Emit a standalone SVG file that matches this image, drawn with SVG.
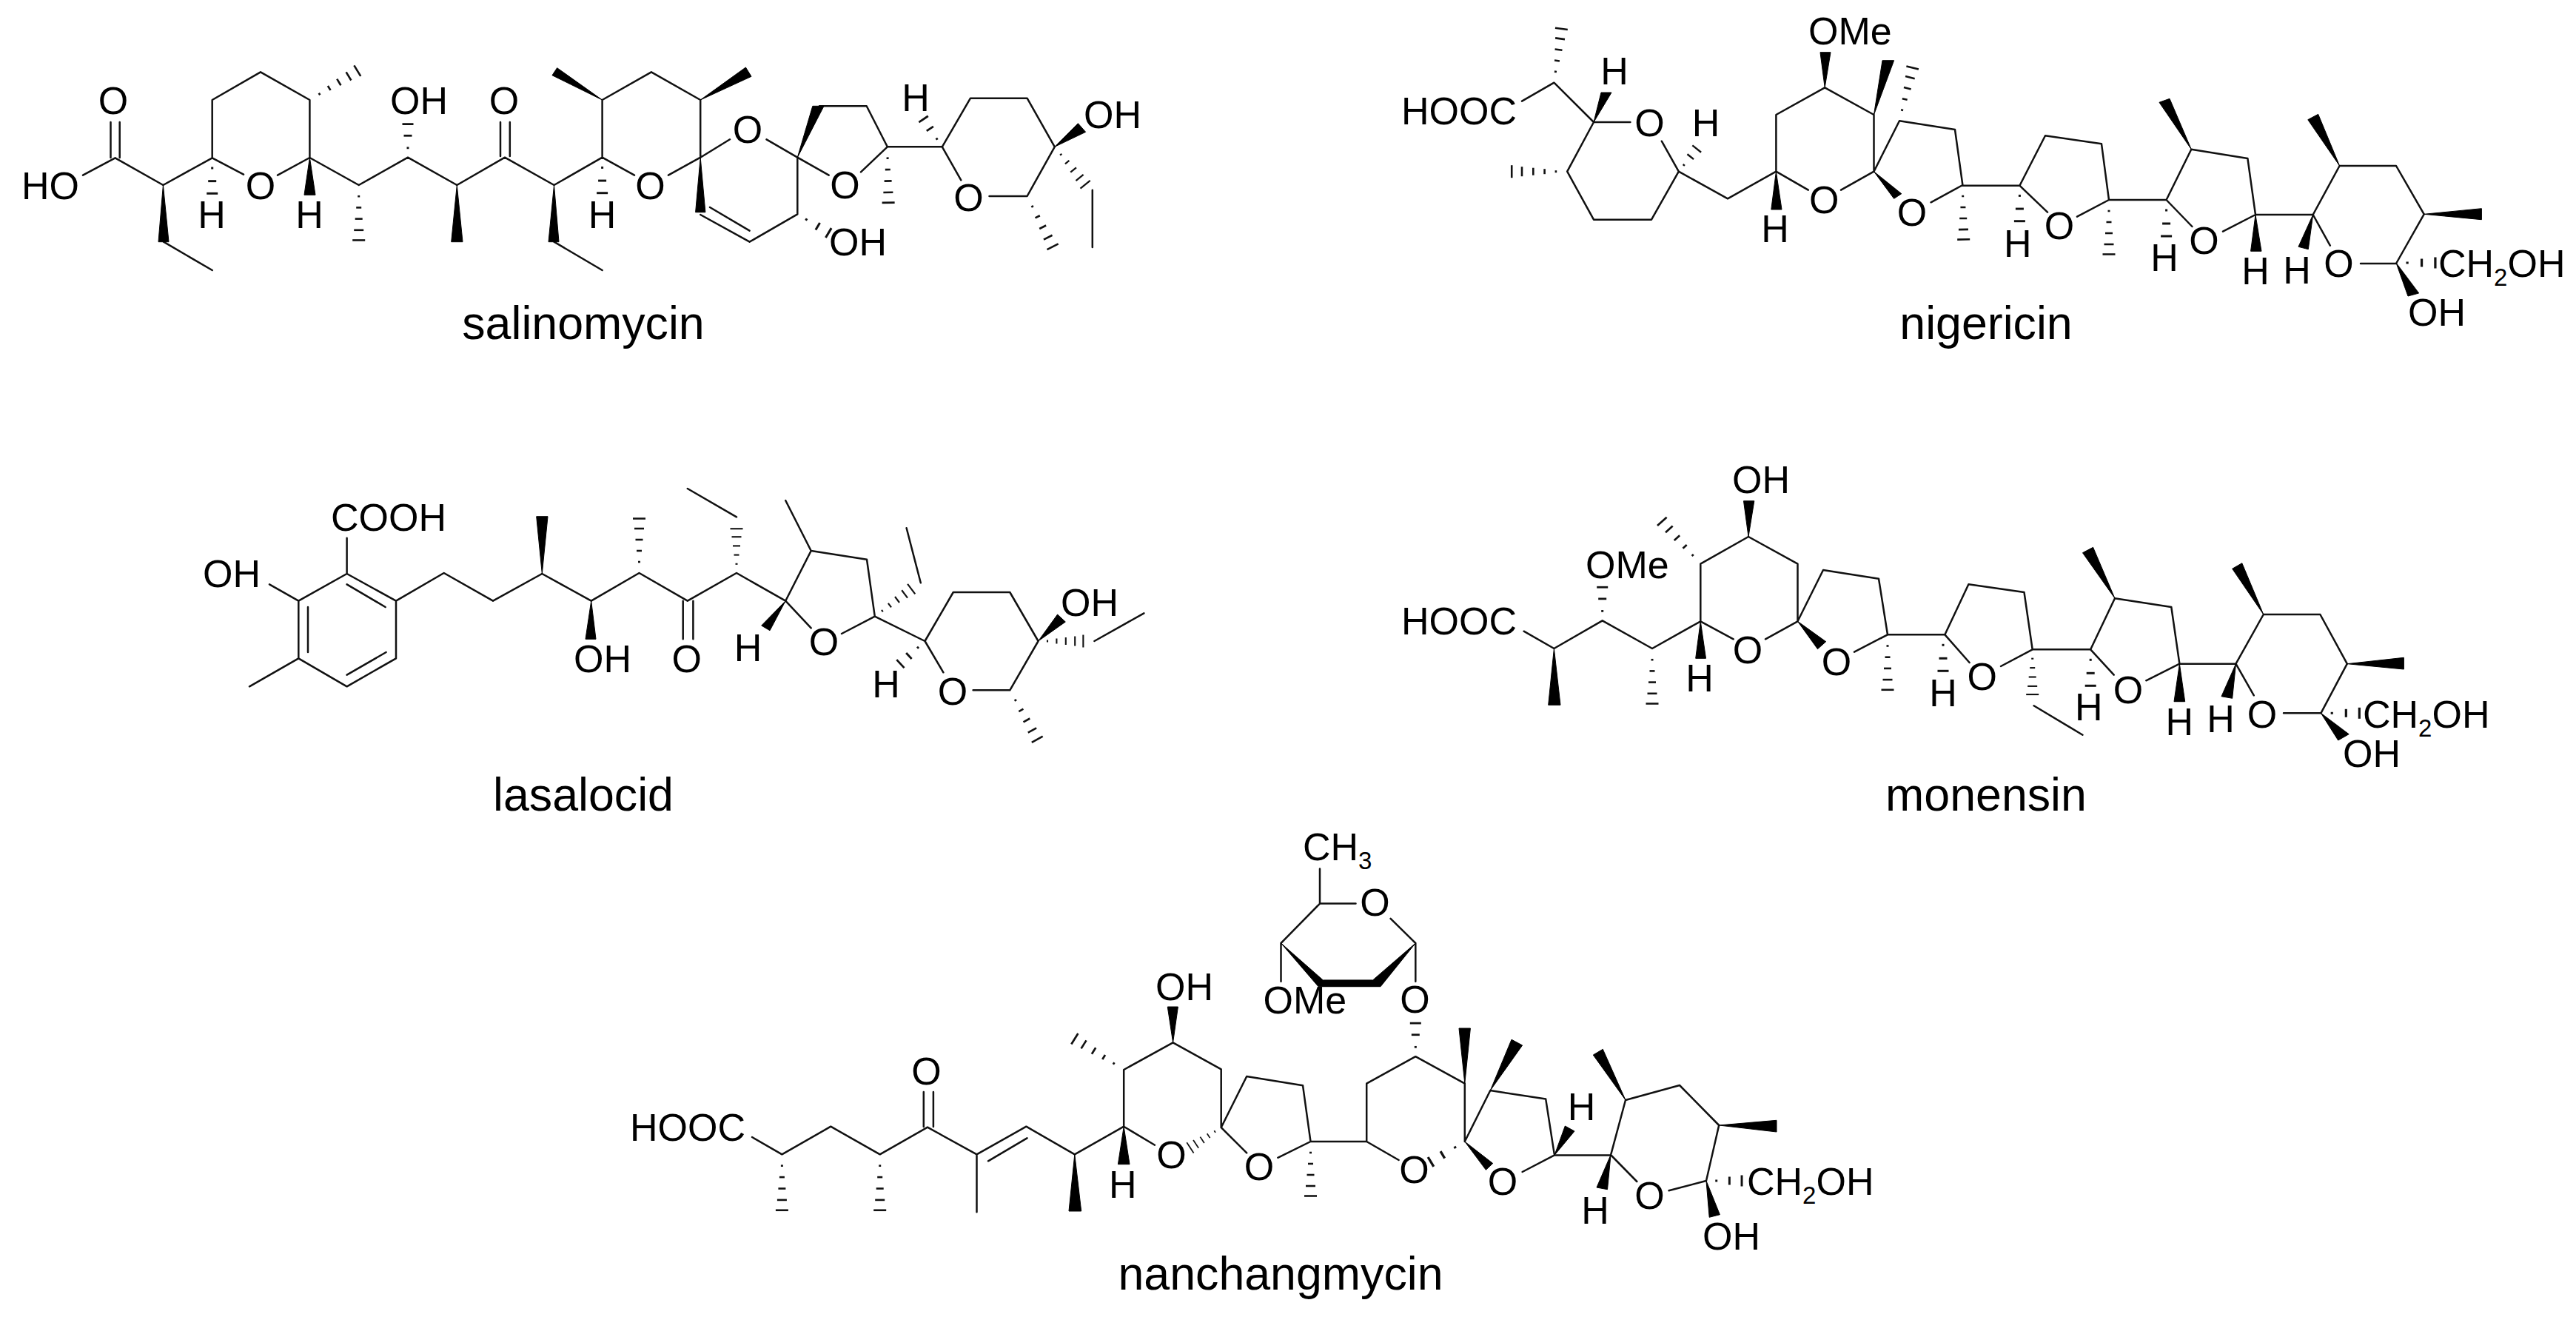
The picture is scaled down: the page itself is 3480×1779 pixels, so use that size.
<svg xmlns="http://www.w3.org/2000/svg" width="3480" height="1779" viewBox="0 0 3480 1779">
<style>
text{font-family:"Liberation Sans",Arial,sans-serif;fill:#000}
.t{font-size:52px}
.m{font-size:52px;text-anchor:middle}
.s{font-size:33px}
.c{font-size:62.7px;text-anchor:middle}
.b{fill:none;stroke:#111;stroke-width:2.5;stroke-linecap:round;stroke-linejoin:round}
polygon{fill:#000;stroke:#000;stroke-width:1;stroke-linejoin:round}
.h line{stroke:#111}
</style>
<defs>
<g id="h5" class="h" stroke-width="3.4"><line x1="-1.5" y1="20" x2="1.5" y2="20"/><line x1="-3.5" y1="40" x2="3.5" y2="40"/><line x1="-5" y1="60" x2="5" y2="60"/><line x1="-6.5" y1="80" x2="6.5" y2="80"/><line x1="-8.5" y1="98" x2="8.5" y2="98"/></g>
<g id="h3" class="h" stroke-width="6"><line x1="-1.5" y1="28" x2="1.5" y2="28"/><line x1="-5.5" y1="64" x2="5.5" y2="64"/><line x1="-7.5" y1="98" x2="7.5" y2="98"/></g>
</defs>
<rect width="3480" height="1779" fill="#fff"/>

<g id="salinomycin">
<path class="b" d="M112 236.7L155.6 213.3L220.4 250L286.7 213.3L329 235.7M375 236.7L418.4 213L484.7 250L551 212.7L617.3 250L682 212.7L748.5 250L813.6 212.7L857 236.7M902.9 236.7L946.2 212.7L986 188.3M1035.5 188.3L1077.3 212.7L1119.7 236.7M149.5 165V213M161.7 165V213M221 326.7L286.7 365M286.7 213.3V135L352 97.3L418.4 135V212.7M676 165V211M688.8 165V211M748.5 326.7L813.6 365M813.6 212.7V135L879.9 97.3L946.2 135V212.7M946.2 290L1012.6 326.7L1077.3 289.3V212.7M959 280L1012.6 311.7M1107 143.3H1170.7L1198.8 198.3H1272.8L1311 132.7H1387.6L1424.8 198.3L1387.6 265H1336.5M1163 232.3L1198.8 198.3M1272.8 198.3L1298.3 243.3M1475.8 256.7V334"/>
<polygon points="220.4,250 214,326.7 228,326.7"/>
<polygon points="418.4,212.7 411,263.3 426,263.3"/>
<polygon points="617.3,250 609.7,326.7 625,326.7"/>
<polygon points="748.5,250 741,326.7 755,326.7"/>
<polygon points="813.6,135 752.6,91.7 746,101.7"/>
<polygon points="946.2,135 1007.4,91 1015,103.3"/>
<polygon points="946.2,212.7 939.6,286.7 952.9,286.7"/>
<polygon points="1077.3,212.7 1097.8,143.3 1113,143.3"/>
<polygon points="1424.8,198.3 1456.4,166.7 1466.6,178.3"/>
<use href="#h3" transform="translate(286.7 213.3) scale(1 .49)"/>
<use href="#h5" transform="translate(418.4 135) rotate(-121.4) scale(1 .77)"/>
<use href="#h5" transform="translate(484.7 250) scale(1 .76)"/>
<use href="#h3" transform="translate(551 212.7) rotate(180) scale(1 .46)"/>
<use href="#h3" transform="translate(813.6 212.7) scale(1 .49)"/>
<use href="#h3" transform="translate(1077.3 289.3) rotate(-59) scale(1 .5)"/>
<use href="#h5" transform="translate(1198.8 198.3) rotate(-1) scale(1 .77)"/>
<use href="#h3" transform="translate(1272.8 198.3) rotate(146) scale(1 .46)"/>
<use href="#h5" transform="translate(1424.8 198.3) rotate(-39) scale(1 .67)"/>
<use href="#h5" transform="translate(1387.6 265) rotate(-26.8) scale(1 .78)"/>
<text class="m" x="153" y="154">O</text>
<text class="t" x="29" y="269">HO</text>
<text class="m" x="286" y="308">H</text>
<text class="m" x="352" y="269">O</text>
<text class="m" x="418" y="308">H</text>
<text class="t" x="527" y="154">OH</text>
<text class="m" x="681" y="154">O</text>
<text class="m" x="813.6" y="308">H</text>
<text class="m" x="878.4" y="269">O</text>
<text class="m" x="1010" y="193">O</text>
<text class="m" x="1141.6" y="268">O</text>
<text class="t" x="1120" y="345">OH</text>
<text class="m" x="1237" y="150">H</text>
<text class="m" x="1308.5" y="285">O</text>
<text class="t" x="1464" y="173">OH</text>
<text class="c" x="788" y="458">salinomycin</text>
</g>

<g id="nigericin">
<path class="b" d="M2056 136.7L2099.4 111.7L2153 165H2202.4M2244.8 190.7L2267.8 231.7L2334 268.3L2399.4 231.7L2442.8 256.7M2487 256.7L2531.5 231.7V155L2465.2 118.3L2399.4 155V231.7M2153 165L2117.2 231.7L2153 296.7H2231L2267.8 231.7M2531.5 231.7L2566 163.3L2641 175L2651.4 250L2608.6 273.3M2650.7 250.7H2728.4L2763 183.3L2839 194.3L2849 270L2806 292.7M2728.4 250.7L2766 286.7M2849 270H2926.6L2960.3 201.7L3036.4 214L3047 290L3003 312.7M2926.6 270L2961.4 306M3047 290H3124.7L3160.6 224H3237L3274.7 289.3L3237 356H3189M3124.7 290L3147.8 331.7"/>
<polygon points="2153,165 2163,125 2177,125"/>
<polygon points="2399.4,231.7 2392.8,283 2407,283"/>
<polygon points="2465.2,118.3 2459,70.7 2473,70.7"/>
<polygon points="2531.5,155 2543,81.7 2558.6,81.7"/>
<polygon points="2531.5,231.7 2568.8,261.7 2558.6,268.3"/>
<polygon points="2960.3,201.7 2917,138.3 2931,133.3"/>
<polygon points="3047,290 3040.6,339.3 3055,339.3"/>
<polygon points="3124.7,290 3105,333.3 3118.3,336.7"/>
<polygon points="3160.6,224 3117.8,161.7 3131.7,154.3"/>
<polygon points="3274.7,289.3 3352.4,281.7 3352.4,296.7"/>
<polygon points="3237,355 3253,400 3267.7,396"/>
<use href="#h5" transform="translate(2099.4 111.7) rotate(-172.2) scale(1 .75)"/>
<use href="#h3" transform="translate(2267.8 231.7) rotate(-141.5) scale(1 .4)"/>
<use href="#h5" transform="translate(2117.2 231.7) rotate(90) scale(1 .765)"/>
<use href="#h5" transform="translate(2566 163.3) rotate(-166.2) scale(1 .755)"/>
<use href="#h5" transform="translate(2651.4 250) rotate(-1) scale(1 .75)"/>
<use href="#h3" transform="translate(2728.4 250.7) scale(1 .49)"/>
<use href="#h5" transform="translate(2849 270) scale(1 .75)"/>
<use href="#h3" transform="translate(2926.6 270) scale(1 .5)"/>
<use href="#h3" transform="translate(3237 355) rotate(-90) scale(1 .54)"/>
<text class="t" x="1893" y="168">HOOC</text>
<text class="m" x="2181" y="114">H</text>
<text class="m" x="2228.5" y="184">O</text>
<text class="m" x="2304.5" y="184">H</text>
<text class="t" x="2443" y="60">OMe</text>
<text class="m" x="2398" y="327">H</text>
<text class="m" x="2464.2" y="288">O</text>
<text class="m" x="2583" y="305">O</text>
<text class="m" x="2725.7" y="346.7">H</text>
<text class="m" x="2782" y="323">O</text>
<text class="m" x="2924" y="366">H</text>
<text class="m" x="2977.4" y="343">O</text>
<text class="m" x="3047" y="384">H</text>
<text class="m" x="3103" y="382.7">H</text>
<text class="m" x="3159.6" y="374">O</text>
<text class="t" x="3294" y="374">CH<tspan class="s" dy="12">2</tspan><tspan dy="-12">OH</tspan></text>
<text class="t" x="3253" y="440">OH</text>
<text class="c" x="2683" y="458">nigericin</text>
</g>

<g id="lasalocid">
<path class="b" d="M468.6 775L535 811.7V889.3L468.6 927.3L403.3 889.3V811.7ZM468.6 789.3L520.6 820M416 820V881M468.6 911.7L521.6 881M468.6 726.7V775M364 789.3L403.3 811.7M403.3 889.3L337 927.3M535 811.7L599.7 774L666 811.7L732.3 775L798.7 811.7L863.5 774L928.8 811.7L995 774L1061.2 811.7L1095.7 744L1171 755.7L1181.8 832.7L1137 856M1095.7 744L1061.2 676M995 698.3L928.8 660M922.7 811.7V863.3M936.4 811.7V863.3M1061.2 811.7L1095.7 848.3M1181.8 832.7L1249.5 866L1287.8 800H1364.3L1402.6 866L1364.3 932.3H1314.6M1249.5 866L1274.4 908.3M1478.4 866L1545.4 828.3M1243.8 787.3L1224.6 713.3"/>
<polygon points="732.3,775 724.7,697.7 740,697.7"/>
<polygon points="798.7,811.7 791,863.3 805,863.3"/>
<polygon points="1061.2,811.7 1028.7,845 1040,851.7"/>
<polygon points="1402.6,866 1428.6,830 1439.3,840"/>
<use href="#h5" transform="translate(863.5 774) rotate(180) scale(1 .75)"/>
<use href="#h5" transform="translate(995 774) rotate(180) scale(1 .61)"/>
<use href="#h5" transform="translate(1181.8 832.7) rotate(-126.9) scale(1 .63)"/>
<use href="#h3" transform="translate(1249.5 866) rotate(47.2) scale(1 .46)"/>
<use href="#h5" transform="translate(1402.6 866) rotate(-90) scale(1 .62)"/>
<use href="#h5" transform="translate(1364.3 932.3) rotate(-29.1) scale(1 .775)"/>
<text class="t" x="447" y="717">COOH</text>
<text class="t" x="274" y="793">OH</text>
<text class="t" x="775" y="908">OH</text>
<text class="m" x="927.8" y="908">O</text>
<text class="m" x="1010.6" y="893">H</text>
<text class="m" x="1112.9" y="885">O</text>
<text class="m" x="1197" y="941.7">H</text>
<text class="m" x="1287" y="951.7">O</text>
<text class="t" x="1433" y="831.7">OH</text>
<text class="c" x="788" y="1095">lasalocid</text>
</g>

<g id="monensin">
<path class="b" d="M2058.6 852.7L2099.4 876L2164.7 838.3L2232 876L2297.3 839.3L2341.7 863.3M2385 863.3L2428.5 839.3V761.7L2362 725L2297.3 761.7V839.3M2428.5 839.3L2463 770L2538 781.7L2550 857.3L2505 880.7M2550 857.3H2627.4L2659.4 789.3L2734.5 800L2745.7 877.3L2703 900M2627.4 857.3L2660.6 895M2747.6 953.3L2813.5 992.7M2745.7 877.3H2824.2L2857 808.3L2933.3 820L2944.4 896.7L2899.3 919.3M2824.2 877.3L2855.7 911.7M2944.4 896.7H3020.5L3057.8 830H3134.4L3170.8 896.7L3135.4 963.3H3085M3020.5 896.7L3044.8 939.3"/>
<polygon points="2099.4,876 2091.7,952.3 2108,952.3"/>
<polygon points="2297.3,839.3 2290.7,889.3 2304.5,889.3"/>
<polygon points="2362,725 2355.5,676.7 2369.8,676.7"/>
<polygon points="2428.5,839.3 2466.7,866.7 2455.5,876.7"/>
<polygon points="2857,808.3 2813.5,746.7 2827.6,739.3"/>
<polygon points="2944.4,896.7 2937,947.7 2951.7,947.7"/>
<polygon points="3020.5,896.7 3001,940.7 3015.7,943.3"/>
<polygon points="3057.8,830 3015.7,768.3 3028.8,760.7"/>
<polygon points="3170.8,896.7 3247.4,888.3 3247.4,904"/>
<polygon points="3135.4,963.3 3158.7,1000 3173.2,991.7"/>
<use href="#h3" transform="translate(2164.7 838.3) rotate(180) scale(1 .46)"/>
<use href="#h5" transform="translate(2232 876) scale(1 .76)"/>
<use href="#h5" transform="translate(2297.3 761.7) rotate(137.8) scale(1 .79)"/>
<use href="#h5" transform="translate(2550 857.3) scale(1 .76)"/>
<use href="#h3" transform="translate(2625 857.3) scale(1 .5)"/>
<use href="#h5" transform="translate(2745.7 877.3) scale(1 .62)"/>
<use href="#h3" transform="translate(2824.2 877.3) scale(1 .5)"/>
<use href="#h3" transform="translate(3135.4 963.3) rotate(-90) scale(1 .53)"/>
<text class="t" x="1893" y="856.7">HOOC</text>
<text class="t" x="2142" y="781">OMe</text>
<text class="t" x="2340" y="665.7">OH</text>
<text class="m" x="2296" y="934">H</text>
<text class="m" x="2361" y="896">O</text>
<text class="m" x="2481" y="911.7">O</text>
<text class="m" x="2625" y="954">H</text>
<text class="m" x="2677.8" y="931.7">O</text>
<text class="m" x="2821.8" y="973">H</text>
<text class="m" x="2875" y="950">O</text>
<text class="m" x="2944.4" y="992.7">H</text>
<text class="m" x="3000" y="989">H</text>
<text class="m" x="3056" y="982.7">O</text>
<text class="t" x="3192" y="982.7">CH<tspan class="s" dy="12">2</tspan><tspan dy="-12">OH</tspan></text>
<text class="t" x="3165" y="1036">OH</text>
<text class="c" x="2683" y="1095">monensin</text>
</g>

<g id="nanchangmycin">
<path class="b" d="M1016 1536L1056.4 1559.3L1122.3 1521.7L1188.7 1559.3L1253 1522.7L1319.5 1559.3L1386.4 1521.7L1451.8 1559.3L1518.2 1521.7L1560 1546.7M1247.8 1475V1522M1260.9 1475V1522M1319.5 1559.3V1637.3M1335 1568.3L1387.5 1537.3M1518.2 1521.7V1445L1584.6 1408.3L1649.7 1444.4V1523L1684.2 1454L1760 1466.2L1770.5 1542L1726.3 1563.8M1649.7 1523L1684.2 1557.3M1770.5 1542H1846.2V1463.6L1912.3 1427.2L1978.8 1463.6V1542L2013.3 1473L2088.2 1484.6L2100 1560.4L2056.6 1583M1846.2 1542L1889.6 1567M2100 1560.4H2176L2196 1486L2269 1466L2322.2 1520L2305 1595L2254.5 1608.3M2176 1560L2211.3 1596M1912.3 1274V1325.8M1730.5 1325.8V1274L1783 1220.6H1831.5M1878.6 1240.8L1912.3 1274M1783 1173.5V1220.6"/>
<polygon points="1451.8,1559.3 1444,1636 1460.7,1636"/>
<polygon points="1518.2,1521.7 1510.4,1572.7 1526,1572.7"/>
<polygon points="1584.6,1408.3 1577.3,1360 1591.4,1360"/>
<polygon points="1730.5,1274 1787.3,1323.9 1854.6,1323.9 1912.3,1274 1865,1332.7 1781,1332.7"/>
<polygon points="1978.8,1463.6 1971,1389 1986.4,1389"/>
<polygon points="2013.3,1473 2042,1404.2 2056.6,1412"/>
<polygon points="1978.8,1542 2016.7,1571.5 2007.4,1580.3"/>
<polygon points="2100,1560.4 2114.3,1521 2127,1528"/>
<polygon points="2176,1560 2157,1604 2171.5,1606.7"/>
<polygon points="2196,1486 2152.3,1425 2165.3,1417.3"/>
<polygon points="2322.2,1520 2400,1513.3 2400,1529"/>
<polygon points="2305,1595 2309.2,1644.3 2323.4,1640.7"/>
<use href="#h5" transform="translate(1056.4 1559.3) scale(1 .77)"/>
<use href="#h5" transform="translate(1188.7 1559.3) scale(1 .77)"/>
<use href="#h5" transform="translate(1518.2 1445) rotate(122.2) scale(1 .8)"/>
<use href="#h5" transform="translate(1649.7 1523) rotate(56.7) scale(1 .51)"/>
<use href="#h5" transform="translate(1770.5 1542) scale(1 .75)"/>
<use href="#h3" transform="translate(1978.8 1542) rotate(59.1) scale(1 .545)"/>
<use href="#h3" transform="translate(1912.3 1427.2) rotate(180) scale(1 .46)"/>
<use href="#h3" transform="translate(2305 1595) rotate(-90) scale(1 .49)"/>
<text class="t" x="851" y="1540.7">HOOC</text>
<text class="m" x="1251.5" y="1465">O</text>
<text class="m" x="1516.7" y="1617.7">H</text>
<text class="m" x="1582.5" y="1578">O</text>
<text class="t" x="1561" y="1350.7">OH</text>
<text class="t" x="1760" y="1162">CH<tspan class="s" dy="12">3</tspan></text>
<text class="m" x="1857.6" y="1237">O</text>
<text class="t" x="1706.5" y="1368.7">OMe</text>
<text class="m" x="1911.5" y="1368">O</text>
<text class="m" x="1701" y="1593.7">O</text>
<text class="m" x="1910.6" y="1597.5">O</text>
<text class="m" x="2030" y="1614">O</text>
<text class="m" x="2136.6" y="1513">H</text>
<text class="m" x="2155" y="1653">H</text>
<text class="m" x="2228.5" y="1632.7">O</text>
<text class="t" x="2360" y="1614.3">CH<tspan class="s" dy="12">2</tspan><tspan dy="-12">OH</tspan></text>
<text class="t" x="2300" y="1687.7">OH</text>
<text class="c" x="1730" y="1741.7">nanchangmycin</text>
</g>
</svg>
